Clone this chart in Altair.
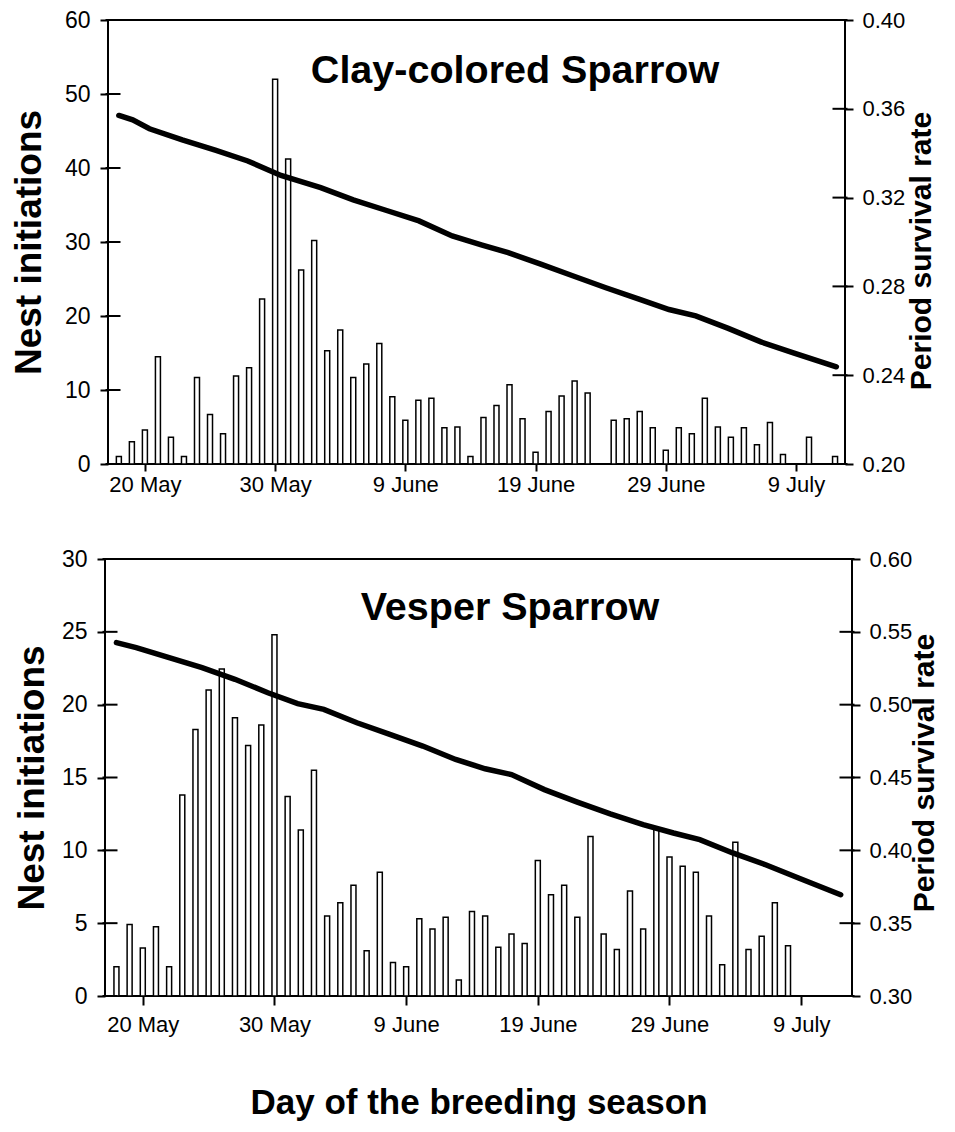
import altair as alt
import pandas as pd

# ---------------- data ----------------
days = list(range(56))  # day 0 = 18 May

clay_nests = [1.0, 3.0, 4.6, 14.5, 3.6, 1.0, 11.7, 6.7, 4.1, 11.9, 13.0, 22.3, 52.0, 41.2,
              26.2, 30.2, 15.3, 18.1, 11.7, 13.5, 16.3, 9.1, 5.9, 8.6, 8.9, 4.9, 5.0, 1.0, 6.3,
              7.9, 10.7, 6.1, 1.6, 7.1, 9.2, 11.2, 9.6, 0, 5.9, 6.1, 7.1, 4.9, 1.85,
              4.9, 4.1, 8.9, 5.0, 3.6, 4.9, 2.6, 5.6, 1.3, 0, 3.6, 0, 1.0]

vesper_nests = [2.0, 4.9, 3.3, 4.75, 2.0, 13.8, 18.3, 21.0, 22.45, 19.1, 17.2, 18.6, 24.8, 13.7, 11.4,
                15.5, 5.5, 6.4, 7.6, 3.1, 8.5, 2.3, 2.0, 5.3, 4.6, 5.4, 1.1, 5.8, 5.5,
                3.35, 4.25, 3.6, 9.3, 6.95, 7.6, 5.4, 10.95, 4.25, 3.2, 7.2, 4.6, 11.5, 9.55,
                8.9, 8.5, 5.5, 2.15, 10.55, 3.2, 4.1, 6.4, 3.45, 0, 0, 0, 0]

clay_surv_days = [0, 1.06, 2.35, 4.87, 7.4, 9.9, 12.45, 15.5, 18.0, 20.5, 23.05, 25.6, 27.9,
                  29.9, 32.4, 34.9, 37.4, 40.0, 42.25, 44.3, 46.8, 49.3, 51.8, 55.1]
clay_surv = [0.357, 0.355, 0.351, 0.346, 0.3414, 0.3365, 0.330, 0.3245, 0.319, 0.3143, 0.3095,
             0.3027, 0.2986, 0.2952, 0.290, 0.2847, 0.2794, 0.2742, 0.2696, 0.2667, 0.2611,
             0.2550, 0.2501, 0.2438]

vesper_surv_days = [0, 1.5, 4.0, 6.5, 9.0, 11.5, 13.76, 15.75, 18.26, 20.76, 23.26, 25.76, 28.0,
                    30.0, 32.5, 35.0, 37.5, 40.0, 42.3, 44.3, 46.8, 49.3, 51.8, 55.0]
vesper_surv = [0.5426, 0.5392, 0.5323, 0.5254, 0.5174, 0.5082, 0.5007, 0.4968, 0.4876, 0.4796,
               0.4716, 0.4624, 0.4560, 0.4520, 0.4417, 0.4331, 0.4250, 0.4177, 0.4119, 0.4073,
               0.3982, 0.3901, 0.3810, 0.3695]

tick_days = [2, 12, 22, 32, 42, 52]
tick_labels = ["20 May", "30 May", "9 June", "19 June", "29 June", "9 July"]

clay_left_ticks = [0, 10, 20, 30, 40, 50, 60]
clay_right_ticks = [0.20, 0.24, 0.28, 0.32, 0.36, 0.40]
vesper_left_ticks = [0, 5, 10, 15, 20, 25, 30]
vesper_right_ticks = [0.30, 0.35, 0.40, 0.45, 0.50, 0.55, 0.60]

FONT = "Liberation Sans"

label_expr = ""
for d, l in zip(tick_days, tick_labels):
    label_expr += f"datum.value == {d} ? '{l}' : "
label_expr += "''"


def panel(nests, sdays, surv, title, ldom, lticks, rdom, rticks, xdom, width, height,
          left_tp, x_tick, x_lab_pad, x_title, title_x, title_y, rt_x, rt_y):
    bars_df = pd.DataFrame({"day": days, "n": nests})
    bars_df = bars_df[bars_df["n"] > 0]
    line_df = pd.DataFrame({"day": sdays, "s": surv})
    lt_df = pd.DataFrame({"day": [xdom[0]] * len(lticks), "v": lticks})
    rt_df = pd.DataFrame({"day": [xdom[1]] * len(rticks), "v": rticks})

    if x_title:
        x_axis = alt.Axis(values=tick_days, labelExpr=label_expr, title=x_title,
                          tickSize=x_tick, labelPadding=x_lab_pad, labelFontSize=22,
                          titleFontSize=35, titleFontWeight="bold", titlePadding=50,
                          labelFlush=False)
    else:
        x_axis = alt.Axis(values=tick_days, labelExpr=label_expr, title=None,
                          tickSize=x_tick, labelPadding=x_lab_pad, labelFontSize=22,
                          labelFlush=False)
    x_scale = alt.Scale(domain=xdom, nice=False, zero=False)
    x_enc = alt.X("day:Q", scale=x_scale, axis=x_axis)

    lscale = alt.Scale(domain=ldom, nice=False)
    rscale = alt.Scale(domain=rdom, nice=False, zero=False)

    bars = alt.Chart(bars_df).mark_bar(size=5, fill="white", stroke="black",
                                       strokeWidth=1.5).encode(
        x=x_enc,
        y=alt.Y("n:Q", scale=lscale,
                axis=alt.Axis(values=lticks, title="Nest initiations", orient="left",
                              tickSize=8, labelPadding=10, labelFontSize=23,
                              titleFontSize=37, titleFontWeight="bold",
                              titlePadding=left_tp)),
    )
    line = alt.Chart(line_df).mark_line(color="black", strokeWidth=5.5,
                                        strokeCap="round").encode(
        x=x_enc,
        y=alt.Y("s:Q", scale=rscale,
                axis=alt.Axis(values=rticks, format=".2f", title=None,
                              orient="right", tickSize=8, labelPadding=9,
                              labelFontSize=22)),
    )
    # inner halves of the crossing tick marks on both value axes
    lt = alt.Chart(lt_df).mark_tick(orient="horizontal", size=15, thickness=2,
                                    color="black", opacity=1).encode(
        x=alt.X("day:Q", scale=x_scale), y=alt.Y("v:Q", scale=lscale, axis=None))
    rt = alt.Chart(rt_df).mark_tick(orient="horizontal", size=15, thickness=2,
                                    color="black", opacity=1).encode(
        x=alt.X("day:Q", scale=x_scale), y=alt.Y("v:Q", scale=rscale, axis=None))

    text = alt.Chart(pd.DataFrame({"t": [title]})).mark_text(
        font=FONT, fontSize=39.5, fontWeight="bold", color="black",
        align="center", baseline="middle").encode(
        x=alt.value(title_x), y=alt.value(title_y), text="t:N")
    rtitle = alt.Chart(pd.DataFrame({"t": ["Period survival rate"]})).mark_text(
        font=FONT, fontSize=30, fontWeight="bold", color="black", angle=270,
        align="center", baseline="middle").encode(
        x=alt.value(rt_x), y=alt.value(rt_y), text="t:N")

    return alt.layer(bars, line, lt, rt, text, rtitle).resolve_scale(
        y="independent").properties(width=width, height=height)


top = panel(clay_nests, clay_surv_days, clay_surv, "Clay-colored Sparrow",
            [0, 60], clay_left_ticks, [0.20, 0.40], clay_right_ticks,
            [-0.45, 55.38], 737, 444, 16, 7, 3, "", 407, 51, 814, 231)
bottom = panel(vesper_nests, vesper_surv_days, vesper_surv, "Vesper Sparrow",
               [0, 30], vesper_left_ticks, [0.30, 0.60], vesper_right_ticks,
               [-0.49, 55.48], 747, 437, 10, 9, 9, "Day of the breeding season", 405, 49,
               820, 214)

chart = alt.vconcat(top, bottom, spacing=51, center=True).properties(
    padding={"left": 1, "top": 0, "right": 0, "bottom": 0}
).configure_view(
    stroke="black", strokeWidth=2
).configure_axis(
    labelFont=FONT, titleFont=FONT, labelColor="black", titleColor="black",
    tickColor="black", tickWidth=2, domain=False, grid=False
)

chart.save("out.html", embed_options={"renderer": "svg", "actions": False})
